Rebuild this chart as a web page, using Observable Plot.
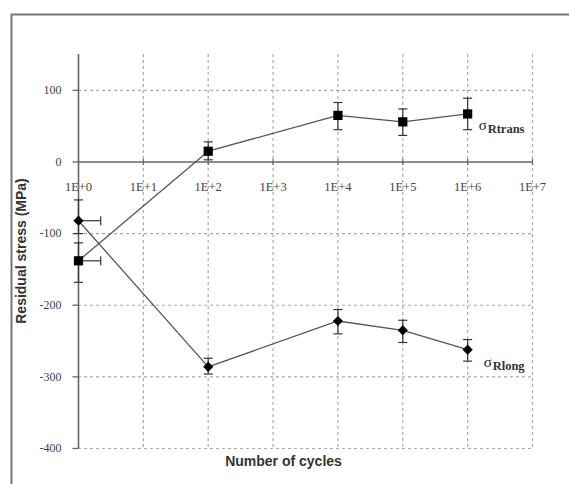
<!DOCTYPE html>
<html>
<head>
<meta charset="utf-8">
<script src="https://cdn.jsdelivr.net/npm/d3@7"></script>
<script src="https://cdn.jsdelivr.net/npm/@observablehq/plot@0.6"></script>
<style>
  html, body { margin: 0; padding: 0; background: #fff; }
  #chart { width: 569px; height: 484px; }
</style>
</head>
<body>
<div id="chart"></div>
<script>
// ---- data ----
const cycles = [1, 100, 1e4, 1e5, 1e6];
const transValues = [-138, 15, 65, 56, 67];
const transLow = [-168, 3, 45, 37, 45];
const transHigh = [-113, 28, 83, 74, 89];
const longValues = [-82, -286, -222, -235, -262];
const longLow = [-100, -296, -240, -252, -278];
const longHigh = [-53, -274, -206, -221, -248];
const xErrHigh = 2.2; // horizontal error at first point (cycles)
const xTickValues = [1, 10, 100, 1e3, 1e4, 1e5, 1e6, 1e7];
const xTickLabels = ["1E+0", "1E+1", "1E+2", "1E+3", "1E+4", "1E+5", "1E+6", "1E+7"];
const yTickValues = [100, 0, -100, -200, -300, -400];
const yGridValues = [100, -100, -200, -300, -400];
const transLabel = {sub: "Rtrans", x: 1e6, y: 50};
const longLabel = {sub: "Rlong", x: 1e6, y: -281};
const xTitle = "Number of cycles";
const yTitle = "Residual stress (MPa)";

const trans = cycles.map((c, i) => ({x: c, y: transValues[i], lo: transLow[i], hi: transHigh[i]}));
const long = cycles.map((c, i) => ({x: c, y: longValues[i], lo: longLow[i], hi: longHigh[i]}));
const firstPts = [trans[0], long[0]];

const hCap = {draw(ctx) { ctx.moveTo(-4.5, 0); ctx.lineTo(4.5, 0); }};
const vCap = {draw(ctx) { ctx.moveTo(0, -4.5); ctx.lineTo(0, 4.5); }};
const yTickSym = {draw(ctx) { ctx.moveTo(-6, 0); ctx.lineTo(0, 0); }};
const xTickSym = {draw(ctx) { ctx.moveTo(0, -3); ctx.lineTo(0, 3); }};

const serif = "'Liberation Serif', 'DejaVu Serif', serif";
const sans = "'Liberation Sans', Arial, sans-serif";
const dark = "#333";

function seriesLabel(lab, dxSigma) {
  return [
    Plot.text([lab], {x: "x", y: "y", text: () => "σ", dx: dxSigma, dy: -1, textAnchor: "start", fontSize: 15, fontFamily: serif, fill: "#222"}),
    Plot.text([lab], {x: "x", y: "y", text: "sub", dx: dxSigma + 9, dy: 3, textAnchor: "start", fontSize: 12.5, fontWeight: "bold", fontFamily: serif, fill: "#333"})
  ];
}

const chart = Plot.plot({
  width: 569,
  height: 484,
  marginLeft: 78,
  marginRight: 37,
  marginTop: 54,
  marginBottom: 36,
  style: {background: "#fff", overflow: "visible"},
  x: {type: "log", domain: [1, 1e7], axis: null},
  y: {domain: [-400, 150], axis: null},
  marks: [
    // grid
    Plot.ruleX(xTickValues.slice(1), {x: d => d, stroke: "#aaa", strokeDasharray: "3,3", strokeWidth: 1.2}),
    Plot.ruleY(yGridValues, {y: d => d, stroke: "#aaa", strokeDasharray: "3,3", strokeWidth: 1.2}),
    // axes
    Plot.ruleY([0], {stroke: "#666", strokeWidth: 1.6}),
    Plot.ruleX([1], {stroke: "#666", strokeWidth: 1.6}),
    Plot.dot(yTickValues, {x: () => 1, y: d => d, symbol: yTickSym, stroke: "#666", strokeWidth: 1.3, r: 3}),
    Plot.dot(xTickValues, {x: d => d, y: () => 0, symbol: xTickSym, stroke: "#666", strokeWidth: 1.2, r: 3}),
    Plot.text(xTickValues, {x: d => d, y: () => 0, text: (d, i) => xTickLabels[i], dy: 25, fontSize: 12.5, fontFamily: serif, fill: "#444"}),
    Plot.text(yTickValues, {x: () => 1, y: d => d, text: d => String(d), dx: -17, textAnchor: "end", fontSize: 12, fontFamily: serif, fill: "#444"}),
    // lines
    Plot.line(trans, {x: "x", y: "y", stroke: "#555", strokeWidth: 1.3}),
    Plot.line(long, {x: "x", y: "y", stroke: "#555", strokeWidth: 1.3}),
    // vertical error bars
    Plot.ruleX(trans, {x: "x", y1: "lo", y2: "hi", stroke: dark, strokeWidth: 1.2}),
    Plot.ruleX(long, {x: "x", y1: "lo", y2: "hi", stroke: dark, strokeWidth: 1.2}),
    Plot.dot([...trans, ...long], {x: "x", y: "lo", symbol: hCap, stroke: dark, strokeWidth: 1.2, r: 3}),
    Plot.dot([...trans, ...long], {x: "x", y: "hi", symbol: hCap, stroke: dark, strokeWidth: 1.2, r: 3}),
    // horizontal error bars at the first points
    Plot.ruleY(firstPts, {y: "y", x1: "x", x2: () => xErrHigh, stroke: dark, strokeWidth: 1.2}),
    Plot.dot(firstPts, {x: () => xErrHigh, y: "y", symbol: vCap, stroke: dark, strokeWidth: 1.2, r: 3}),
    // markers
    Plot.dot(trans, {x: "x", y: "y", symbol: "square", r: 5.2, fill: "#000"}),
    Plot.dot(long, {x: "x", y: "y", symbol: "diamond2", r: 4.6, fill: "#000"}),
    // series labels
    ...seriesLabel(transLabel, 11),
    ...seriesLabel(longLabel, 16),
    // x title
    Plot.text([xTitle], {frameAnchor: "bottom", dy: 17, dx: -22, text: d => d, fontSize: 14, fontWeight: "bold", fontFamily: sans, fill: "#333"})
  ]
});

const svg = d3.select(chart);
// outer frame (partial box like the original scan)
svg.insert("path", ":first-child")
  .attr("d", "M11.5,484 V14.5 H569")
  .attr("fill", "none").attr("stroke", "#777").attr("stroke-width", 2);
// y title
svg.append("text")
  .attr("transform", "translate(22,251) rotate(-90)")
  .attr("text-anchor", "middle").attr("dominant-baseline", "middle")
  .attr("font-family", sans).attr("font-size", 14).attr("font-weight", "bold")
  .attr("fill", "#333")
  .text(yTitle);

document.getElementById("chart").appendChild(chart);
</script>
</body>
</html>
